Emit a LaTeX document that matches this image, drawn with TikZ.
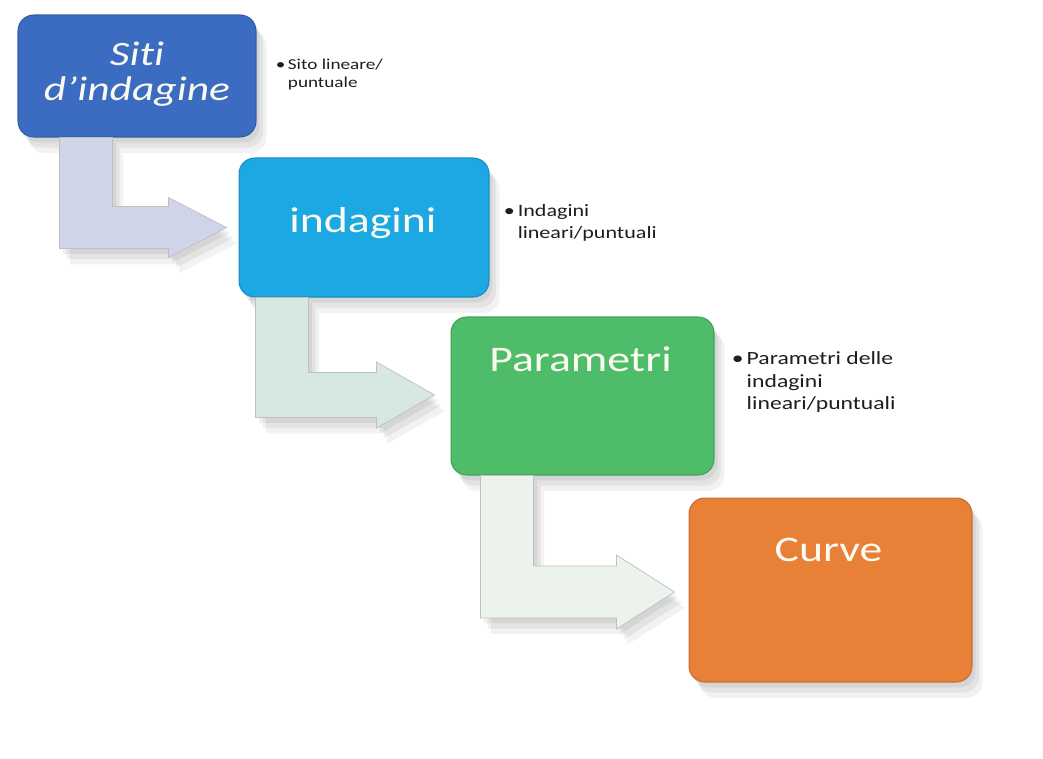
\documentclass[tikz,border=0pt]{standalone}
\usepackage{fontspec}
\setmainfont{Carlito}
\newfontfamily\widefont[FakeStretch=1.27, Ligatures=NoCommon]{Carlito}
\usetikzlibrary{calc,shadows}

\definecolor{sitiblue}{RGB}{59,108,193}
\definecolor{indcyan}{RGB}{28,168,226}
\definecolor{pargreen}{RGB}{78,188,104}
\definecolor{curorange}{RGB}{233,128,55}
\definecolor{titlewhite}{RGB}{250,250,240}
\definecolor{notegray}{RGB}{30,30,30}
\definecolor{arrowlav}{RGB}{208,212,232}
\definecolor{arrowmint}{RGB}{214,232,223}
\definecolor{arrowpale}{RGB}{236,243,236}

% bent arrow: #1 top of the bar, #2 tip, #3 half bar, #4 half head, #5 style
\newcommand{\bendarrow}[5]{%
  \fill[#5] (#1) -- ++(53,0) |- ($(#2)+(-58,-#3)$) -- ($(#2)+(-58,-#4)$)
    -- (#2) -- ($(#2)+(-58,#4)$) -- ($(#2)+(-58,#3)$) -| (#1) -- cycle;}

\begin{document}
\begin{tikzpicture}[x=0.02cm, y=-0.02cm,
  softshadow/.style={
    general shadow={fill=black, opacity=.06, shadow xshift=2pt, shadow yshift=-3pt},
    general shadow={fill=black, opacity=.06, shadow xshift=4pt, shadow yshift=-6pt},
    general shadow={fill=black, opacity=.05, shadow xshift=6pt, shadow yshift=-9pt}},
  box/.style={rectangle, rounded corners=9pt, fill=#1, draw=#1!85!black,
    line width=0.6pt, softshadow},
  title/.style={font=\widefont\fontsize{20.5}{20.5}\selectfont, text=titlewhite,
    align=center},
  note/.style={anchor=north west, inner sep=0pt, align=left, text=notegray},
  bend/.style={fill=#1, draw=black!25, line width=0.4pt, softshadow}]

\path[use as bounding box, fill=white] (0,0) rectangle (1043,758);

% boxes
\node[box=sitiblue, minimum width=4.76cm, minimum height=2.44cm] (siti) at (137,76) {};
\node[box=indcyan, minimum width=5.0cm, minimum height=2.78cm] (ind) at (364,227.5) {};
\node[box=pargreen, minimum width=5.26cm, minimum height=3.16cm] (par) at (582.5,396) {};
\node[box=curorange, minimum width=5.66cm, minimum height=3.68cm] (cur) at (830.5,590) {};

% bent arrows between the boxes
\coordinate (a1) at ($(siti.south west)+(42,0)$);
\coordinate (t1) at ($(ind.west)+(-12,0)$);
\coordinate (a2) at ($(ind.south west)+(17,0)$);
\coordinate (t2) at ($(par.west)+(-16,-1)$);
\coordinate (a3) at ($(par.south west)+(30,0)$);
\coordinate (t3) at ($(cur.west)+(-14,2)$);
\bendarrow{a1}{t1}{21}{30}{bend=arrowlav}
\bendarrow{a2}{t2}{22.5}{33}{bend=arrowmint}
\bendarrow{a3}{t3}{26}{37}{bend=arrowpale}

% titles
\node[title, font=\widefont\itshape\fontsize{19.5}{20}\selectfont] (sitiT) at ($(siti.center)+(0,-2)$) {Siti\\d’indagine};
\node[title] (indT) at ($(ind.center)+(-1,-4)$) {indagini};
\node[title] (parT) at ($(par.north)+(-2,43)$) {Parametri};
\node[title] (curT) at ($(cur.north)+(-2,52)$) {Curve};

% notes
\node[note, font=\widefont\fontsize{8.6}{10.2}\selectfont] (sitiN) at ($(siti.north east)+(19,44)$)
  {•\,Sito lineare/\\\hphantom{•\,}puntuale};
\node[note, font=\widefont\fontsize{9.9}{12}\selectfont] (indN) at ($(ind.north east)+(14,47)$)
  {•\,Indagini\\\hphantom{•\,}lineari/puntuali};
\node[note, font=\widefont\fontsize{10.6}{12.8}\selectfont] (parN) at ($(par.north east)+(17,35)$)
  {•\,Parametri delle\\\hphantom{•\,}indagini\\\hphantom{•\,}lineari/puntuali};
\end{tikzpicture}
\end{document}
